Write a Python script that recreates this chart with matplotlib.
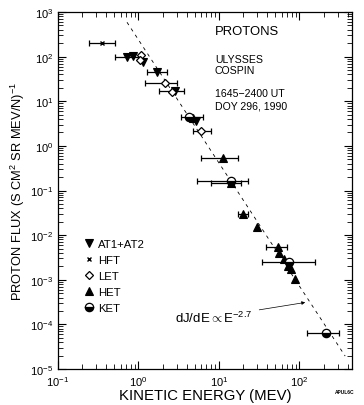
import numpy as np
import matplotlib
matplotlib.use("Agg")
import matplotlib.pyplot as plt
from matplotlib.lines import Line2D

plt.rcParams['font.family'] = ['Liberation Sans', 'DejaVu Sans']
plt.rcParams['mathtext.fontset'] = 'custom'
plt.rcParams['mathtext.rm'] = 'Liberation Sans'
plt.rcParams['mathtext.it'] = 'Liberation Sans'

# ---- data (kinetic energy MeV, flux, x-error low/high) ----
hft_E = [0.35]
hft_F = [200]
hft_lo = [0.24]
hft_hi = [0.51]

at_E = [0.72, 0.86, 1.15, 1.70, 2.83, 5.2]
at_F = [100, 105, 74, 46, 16.7, 3.7]
at_lo = [0.51, np.nan, np.nan, 1.29, 1.80, np.nan]
at_hi = [1.03, np.nan, np.nan, 2.26, 3.64, np.nan]

let_E = [1.09, 1.03, 2.13, 2.6, 6.0]
let_F = [106, 85, 25, 15.8, 2.2]
let_lo = [np.nan, np.nan, 1.22, np.nan, 4.8]
let_hi = [np.nan, np.nan, 3.0, np.nan, 8.0]

het_E = [4.8, 11.2, 14, 19.8, 30, 53.6, 55, 65, 73, 79, 89]
het_F = [4.3, 0.54, 0.15, 0.030, 0.0149, 0.0055, 0.0039, 0.0029, 0.0020, 0.0017, 0.00104]
het_lo = [np.nan, 6.0, 8.0, 17.2, np.nan, 38, np.nan, np.nan, np.nan, np.nan, np.nan]
het_hi = [np.nan, 17.2, 18.6, 22.8, np.nan, 71, np.nan, np.nan, np.nan, np.nan, np.nan]

ket_E = [4.2, 14, 75, 215]
ket_F = [4.5, 0.166, 0.0025, 6.3e-5]
ket_lo = [3.4, 5.4, 34, 123]
ket_hi = [6.4, 22.8, 158, 310]

fit_E = [0.72, 370]
fit_F = [589, 1.95e-5]

legend_labels = ["AT1+AT2", "HFT", "LET", "HET", "KET"]
info_lines = ["ULYSSES", "COSPIN", "", "1645\u22122400 UT", "DOY 296, 1990"]

fig = plt.figure(figsize=(3.64, 4.06), dpi=100)
ax = fig.add_axes([58/364, 36/406, 294/364, 357/406])
ax.set_xscale('log')
ax.set_yscale('log')
ax.set_xlim(0.1, 450)
ax.set_ylim(1e-5, 1e3)

ax.plot(fit_E, fit_F, color='black', lw=0.6, ls=(0, (4, 5)))


def errs(E, lo, hi):
    E = np.array(E, float)
    return np.vstack([E - np.array(lo, float), np.array(hi, float) - E])


def draw(E, F, lo, hi, **kw):
    E = np.array(E, float); F = np.array(F, float)
    lo = np.array(lo, float); hi = np.array(hi, float)
    m = ~np.isnan(lo)
    if m.any():
        ax.errorbar(E[m], F[m], xerr=errs(E[m], lo[m], hi[m]), fmt='none',
                    ecolor='black', elinewidth=0.9, capsize=2.2, capthick=0.9, zorder=2)
    ax.plot(E, F, ls='none', zorder=3, **kw)


tri = dict(marker='v', ms=5.5, mfc='black', mec='black', mew=0.8)
xk = dict(marker='x', ms=3.5, mec='black', mew=1.0)
dia = dict(marker='D', ms=4.5, mfc='white', mec='black', mew=0.9)
het = dict(marker='^', ms=5.5, mfc='black', mec='black', mew=0.8)
ket = dict(marker='o', ms=6, mfc='black', mec='black', mew=0.9,
           fillstyle='bottom', markerfacecoloralt='white')

draw(hft_E, hft_F, hft_lo, hft_hi, **xk)
draw(at_E, at_F, at_lo, at_hi, **tri)
draw(let_E, let_F, let_lo, let_hi, **dia)
draw(het_E, het_F, het_lo, het_hi, **het)
draw(ket_E, ket_F, ket_lo, ket_hi, **ket)

handles = [Line2D([], [], ls='none', **tri), Line2D([], [], ls='none', **xk),
           Line2D([], [], ls='none', **dia), Line2D([], [], ls='none', **het),
           Line2D([], [], ls='none', **ket)]
ax.legend(handles, legend_labels, loc='upper left', bbox_to_anchor=(0.066, 0.38),
          frameon=False, fontsize=8.2, handlelength=1.0, handletextpad=0.3,
          labelspacing=0.52, borderpad=0)

ax.text(0.534, 0.947, "PROTONS", transform=ax.transAxes, fontsize=9.4, va='center', ha='left')
ys = [0.868, 0.837, None, 0.773, 0.737]
for t, y in zip(info_lines, ys):
    if t:
        ax.text(0.534, y, t, transform=ax.transAxes, fontsize=7.6, va='center', ha='left')

ax.annotate(r"dJ/dE$\propto$E$^{-2.7}$", xy=(118, 3.1e-4), xytext=(26, 1.45e-4),
            fontsize=9.5, ha='right', va='center',
            arrowprops=dict(arrowstyle='-|>', color='black', lw=0.5,
                            mutation_scale=5, shrinkA=3, shrinkB=0))

ax.set_xlabel("KINETIC ENERGY (MEV)", fontsize=10.7, labelpad=0)
ax.set_ylabel(r"PROTON FLUX (S CM$^2$ SR MEV/N)$^{-1}$", fontsize=9.3, labelpad=2)

ax.tick_params(which='both', direction='in', top=True, right=True, labelsize=8)
ax.tick_params(which='major', length=6, width=0.8)
ax.tick_params(which='minor', length=3.5, width=0.6)
ax.xaxis.set_minor_locator(matplotlib.ticker.LogLocator(base=10, subs=np.arange(2, 10), numticks=20))
ax.yaxis.set_minor_locator(matplotlib.ticker.LogLocator(base=10, subs=np.arange(2, 10), numticks=20))
ax.xaxis.set_minor_formatter(matplotlib.ticker.NullFormatter())
ax.yaxis.set_minor_formatter(matplotlib.ticker.NullFormatter())
ax.xaxis.set_major_locator(matplotlib.ticker.LogLocator(base=10, numticks=20))
ax.yaxis.set_major_locator(matplotlib.ticker.LogLocator(base=10, numticks=20))
for s in ax.spines.values():
    s.set_linewidth(0.9)

fig.text(345/364, 1 - 393/406, "APUL6C", fontsize=3.5, fontweight='bold', ha='center', va='center')

fig.savefig("out.png", dpi=100)
